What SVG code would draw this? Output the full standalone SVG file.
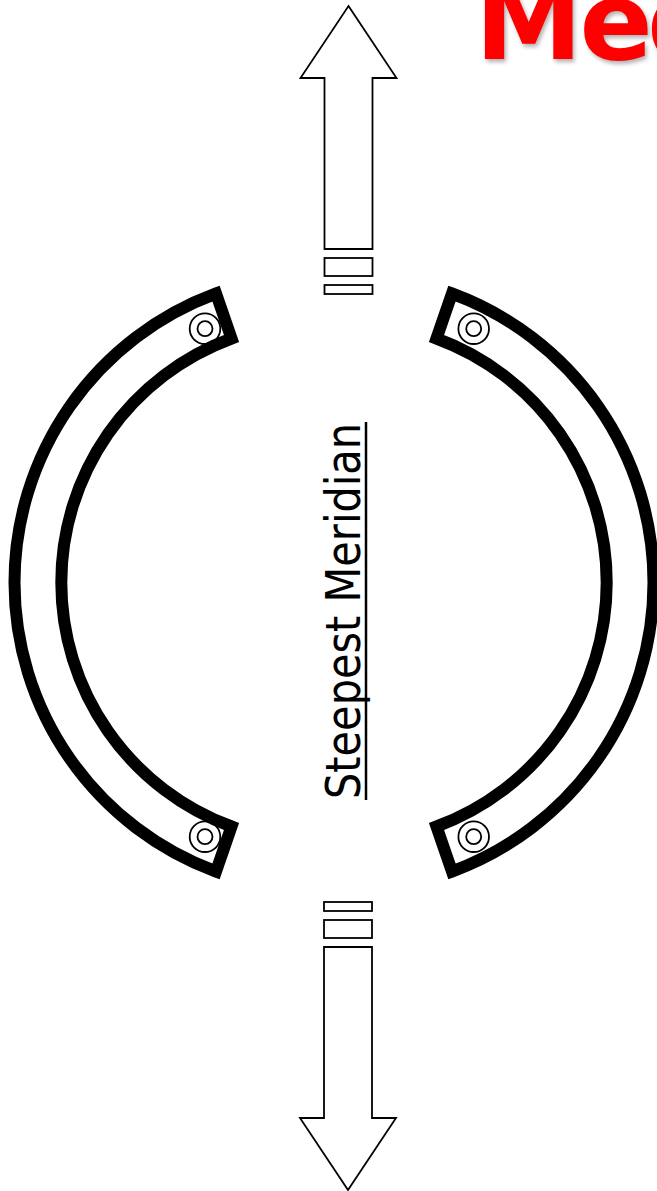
<svg xmlns="http://www.w3.org/2000/svg" width="657" height="1191" viewBox="0 0 657 1191">
<defs><filter id="sh" x="-10%" y="-10%" width="120%" height="130%"><feGaussianBlur stdDeviation="2"/></filter></defs>
<style>
.b{fill:#fff;stroke:#000;stroke-width:1.800}
.a{fill:#fff;stroke:#000;stroke-width:12;stroke-linejoin:miter;stroke-miterlimit:10}
.c{fill:none;stroke:#000;stroke-width:1.800}
.t{font-family:"DejaVu Sans",sans-serif}
</style>
<rect width="657" height="1191" fill="#fff"/>
<g id="title">
<text class="t" x="477 581.500 649" y="62" font-size="108" font-weight="700" fill="#000" opacity=".3" filter="url(#sh)">Med</text>
<text class="t" x="475 579.500 647" y="59" font-size="108" font-weight="700" fill="#f00">Med</text>
</g>
<g id="arc-left">
<path class="a" d="M216 293.500A308 308 0 0 0 216 871.500L231.500 826.500A260 260 0 0 1 231.500 338.500Z"/>
<circle class="c" cx="205" cy="328.700" r="15.300"/><circle class="c" cx="205" cy="328.700" r="7.500"/>
<circle class="c" cx="205" cy="836.700" r="15.300"/><circle class="c" cx="205" cy="836.700" r="7.500"/>
</g>
<g id="arc-right">
<path class="a" d="M452 293.500A308 308 0 0 1 452 871.500L436.500 826.500A260 260 0 0 0 436.500 338.500Z"/>
<circle class="c" cx="473.700" cy="328.700" r="15.300"/><circle class="c" cx="473.700" cy="328.700" r="7.500"/>
<circle class="c" cx="473.700" cy="836.700" r="15.300"/><circle class="c" cx="473.700" cy="836.700" r="7.500"/>
</g>
<g id="label">
<text transform="translate(360 799) rotate(-90)" font-family="'DejaVu Sans Condensed','DejaVu Sans',sans-serif" font-stretch="condensed" font-size="48" textLength="376" lengthAdjust="spacingAndGlyphs" fill="#000">Steepest Meridian</text>
<path d="M366 422V800" stroke="#000" stroke-width="2.500" fill="none"/>
</g>
<g id="connectors">
<path class="b" d="M348.500 6L396.500 78H372.500V249H324.500V78H300.500Z"/>
<rect class="b" x="324.500" y="258" width="48" height="18"/>
<rect class="b" x="324.500" y="285" width="48" height="9"/>
<path class="b" d="M348 1190L396 1118H372V947H324V1118H300Z"/>
<rect class="b" x="324" y="920" width="48" height="18"/>
<rect class="b" x="324" y="902" width="48" height="9"/>
</g>
</svg>
